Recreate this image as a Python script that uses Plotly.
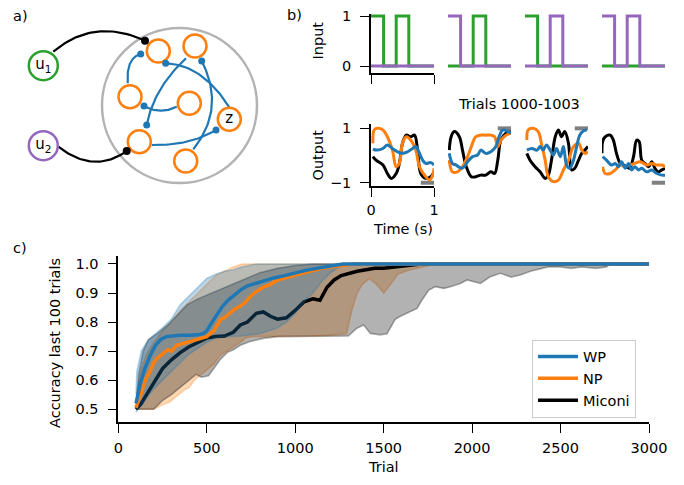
import numpy as np
import plotly.graph_objects as go

W, H = 684, 485
FONT = "DejaVu Sans"
FS = 14.5
BLUE, ORANGE, GREEN, PURPLE = "#1f77b4", "#ff7f0e", "#2ca02c", "#9467bd"

# ---------------- panel c data ----------------
wp_x = [100,110,125,150,180,210,240,270,300,350,400,450,480,500,530,560,590,620,650,690,730,780,830,880,940,1000,1060,1120,1180,1230,1270,3000]
wp_y = [0.52,0.55,0.59,0.64,0.685,0.72,0.74,0.75,0.752,0.755,0.755,0.756,0.76,0.77,0.80,0.83,0.855,0.875,0.89,0.91,0.925,0.935,0.945,0.952,0.96,0.97,0.978,0.985,0.992,0.997,1.0,1.0]
np_x = [100,115,140,160,180,200,220,250,280,300,330,360,390,420,450,480,500,520,540,560,580,600,630,660,690,720,750,780,820,860,900,950,1000,1050,1100,1150,1200,1260,1330,3000]
np_y = [0.505,0.53,0.57,0.61,0.63,0.66,0.675,0.69,0.705,0.70,0.72,0.725,0.73,0.735,0.74,0.745,0.75,0.76,0.77,0.79,0.81,0.815,0.83,0.845,0.855,0.87,0.89,0.905,0.92,0.93,0.945,0.955,0.962,0.97,0.978,0.985,0.99,0.995,1.0,1.0]
mi_x = [100,130,160,200,250,300,350,400,450,500,550,600,650,690,730,780,820,860,900,950,1000,1050,1100,1140,1180,1220,1260,1300,1350,1400,1450,1500,1560,1620,1710,3000]
mi_y = [0.50,0.52,0.55,0.59,0.64,0.67,0.695,0.715,0.73,0.745,0.75,0.752,0.765,0.79,0.80,0.83,0.835,0.82,0.81,0.815,0.84,0.87,0.88,0.875,0.92,0.945,0.96,0.968,0.975,0.98,0.985,0.985,0.99,0.995,1.0,1.0]

wp_lo_x = [100,120,150,200,250,300,350,400,450,500,550,600,700,800,900,950,1000,1050,1100,1150,1200,1250,1300,3000]
wp_lo_y = [0.49,0.51,0.53,0.57,0.60,0.63,0.66,0.69,0.71,0.73,0.745,0.75,0.752,0.76,0.78,0.80,0.83,0.87,0.90,0.94,0.97,0.99,1.0,1.0]
wp_hi_x = [100,105,130,160,200,250,300,350,400,450,500,550,600,650,700,780,3000]
wp_hi_y = [0.55,0.63,0.70,0.73,0.755,0.78,0.81,0.86,0.89,0.92,0.95,0.965,0.975,0.98,0.99,1.0,1.0]

np_lo_x = [100,200,250,290,330,370,400,430,460,500,540,575,610,650,690,720,760,1000,1100,1200,1290,1320,1350,1380,1420,1460,1500,1540,1580,1650,1720,1800,3000]
np_lo_y = [0.50,0.50,0.515,0.525,0.545,0.565,0.575,0.60,0.615,0.635,0.655,0.685,0.70,0.715,0.73,0.745,0.75,0.75,0.752,0.755,0.76,0.84,0.90,0.93,0.95,0.93,0.90,0.93,0.965,0.98,0.99,1.0,1.0]
np_hi_x = [100,110,130,160,200,250,300,350,400,450,500,550,600,650,700,3000]
np_hi_y = [0.52,0.58,0.64,0.69,0.73,0.77,0.80,0.84,0.87,0.90,0.93,0.96,0.975,0.99,1.0,1.0]

mi_lo_x = [100,200,250,300,350,400,440,470,510,540,575,615,650,690,745,820,900,1300,1349,1387,1425,1481,1519,1547,1566,1595,1632,1689,1717,1755,1793,1840,1878,1934,1972,2010,2047,2100,2160,2220,2273,2330,2390,2430,2500,2560,2620,2700,2760,2780,3000]
mi_lo_y = [0.50,0.50,0.53,0.55,0.575,0.60,0.62,0.61,0.615,0.64,0.67,0.695,0.705,0.72,0.733,0.744,0.75,0.752,0.779,0.79,0.761,0.756,0.76,0.79,0.81,0.82,0.83,0.847,0.876,0.91,0.922,0.916,0.922,0.933,0.945,0.939,0.933,0.955,0.968,0.955,0.962,0.975,0.985,0.99,0.99,0.985,0.99,0.985,0.99,1.0,1.0]
mi_hi_x = [100,115,140,170,220,280,330,390,450,520,580,650,720,800,900,1000,1100,3000]
mi_hi_y = [0.50,0.62,0.70,0.74,0.76,0.79,0.82,0.86,0.88,0.90,0.915,0.93,0.95,0.97,0.985,0.995,1.0,1.0]

# ---------------- panel b data ----------------
t_in = [0.0, 0.2, 0.4, 0.6, 1.0]
u1_trials = [[1, 0, 1, 0, 0], [0, 0, 1, 0, 0], [1, 0, 0, 0, 0], [0, 0, 0, 0, 0]]
u2_trials = [[0, 0, 0, 0, 0], [1, 0, 0, 0, 0], [0, 0, 1, 0, 0], [1, 0, 1, 0, 0]]
targets = [-1, 1, 1, -1]
target_t = [0.79, 1.0]

out_black_t = [
    [0.03,0.08,0.19,0.26,0.32,0.40,0.45,0.50,0.56,0.63,0.69,0.74,0.79,0.87,0.95,1.0],
    [0.02,0.05,0.10,0.18,0.23,0.29,0.37,0.44,0.52,0.60,0.68,0.74,0.79,0.84,0.92,1.0],
    [0.03,0.08,0.16,0.24,0.32,0.37,0.42,0.48,0.53,0.58,0.63,0.69,0.74,0.79,0.85,0.90,0.95,1.0],
    [0.0,0.01,0.05,0.13,0.18,0.23,0.29,0.34,0.39,0.44,0.50,0.55,0.59,0.63,0.68,0.74,0.79,0.84,0.89,0.95,1.0],
]
out_black_v = [
    [-0.04,-0.17,-0.35,-0.66,-0.84,-0.66,-0.29,0.45,0.75,0.69,0.75,0.2,-0.66,-0.84,-0.78,-0.6],
    [0.2,0.69,0.88,0.69,0.2,-0.41,-0.78,-0.78,-0.72,-0.72,-0.6,-0.66,-0.17,0.57,0.82,0.88],
    [0.08,-0.17,-0.41,-0.6,-0.84,-0.72,-0.17,0.69,0.94,0.69,0.88,0.45,-0.53,-0.47,-0.17,0.08,0.2,0.33],
    [0.08,0.51,0.69,0.75,0.57,0.08,-0.29,-0.35,-0.41,-0.47,-0.04,0.57,0.51,-0.17,-0.29,-0.41,-0.23,-0.47,-0.6,-0.53,-0.47],
]
out_orange_t = [
    [0.03,0.05,0.10,0.19,0.26,0.34,0.40,0.45,0.50,0.56,0.63,0.71,0.77,0.85,0.93,0.98,1.0],
    [0.02,0.07,0.15,0.23,0.31,0.37,0.44,0.52,0.60,0.68,0.74,0.79,0.84,0.92,1.0],
    [0.03,0.05,0.13,0.21,0.26,0.32,0.37,0.45,0.53,0.61,0.69,0.77,0.85,0.90,0.95,1.0],
    [0.01,0.05,0.13,0.21,0.29,0.37,0.44,0.52,0.60,0.66,0.71,0.79,0.87,0.95,1.0],
]
out_orange_v = [
    [0.45,0.94,1.0,0.94,0.69,0.2,-0.41,-0.29,0.45,0.69,0.57,0.2,-0.41,-0.72,-0.9,-0.72,-0.47],
    [-0.17,-0.6,-0.6,-0.41,-0.04,0.33,0.69,0.75,0.75,0.75,0.69,0.33,0.57,0.75,0.82],
    [0.57,0.94,1.0,0.88,0.45,-0.17,-0.78,-0.96,-0.9,-0.53,-0.17,0.33,0.45,0.2,0.08,0.14],
    [-0.41,-0.66,-0.66,-0.53,-0.35,-0.41,-0.35,-0.29,-0.23,-0.29,-0.35,-0.29,-0.35,-0.35,-0.41],
]
out_blue_t = [
    [0.03,0.10,0.19,0.26,0.34,0.42,0.50,0.58,0.66,0.71,0.77,0.82,0.87,0.95,1.0],
    [0.02,0.07,0.13,0.21,0.26,0.31,0.39,0.47,0.52,0.60,0.68,0.76,0.81,0.87,0.95,1.0],
    [0.03,0.11,0.19,0.24,0.29,0.34,0.40,0.45,0.50,0.56,0.61,0.66,0.71,0.77,0.82,0.87,0.93,0.98],
    [0.01,0.07,0.15,0.21,0.26,0.31,0.37,0.42,0.47,0.52,0.58,0.63,0.71,0.79,0.87,0.95,1.0],
]
out_blue_v = [
    [0.23,0.2,0.26,0.39,0.26,0.14,0.08,0.14,0.26,0.33,0.08,-0.17,-0.29,-0.26,-0.35],
    [0.08,-0.29,-0.35,-0.47,-0.41,-0.23,-0.04,0.02,0.2,0.08,0.14,0.33,0.69,0.94,0.88,0.82],
    [0.2,0.26,0.2,0.33,0.2,0.39,0.2,0.02,0.26,-0.04,0.33,-0.35,-0.47,-0.17,0.33,0.75,0.91,0.94],
    [-0.04,-0.17,-0.35,-0.29,-0.41,-0.23,-0.47,-0.29,-0.53,-0.41,-0.53,-0.47,-0.6,-0.53,-0.66,-0.72,-0.72],
]

# ---------------- panel a data (schematic, drawn in pixel-like units) ----------------
res_node_x = [158.3, 195.0, 130.0, 189.3, 229.3, 139.3, 185.7]
res_node_y = [51.0, 46.0, 96.7, 103.3, 119.3, 141.7, 161.0]
in_node_x = [43.3, 43.3]
in_node_y = [65.7, 145.7]
in_labels = ["u<sub>1</sub>", "u<sub>2</sub>"]
in_colors = [GREEN, PURPLE]
z_node = 4
reservoir_center = [179.5, 105.5]
# edges: start point, control point, end point (end gets a dot)
blue_edges = [
    [(127.7, 83.3), (126.0, 58.0), (140.7, 54.0)],
    [(176.7, 106.7), (160.0, 115.0), (144.0, 106.0)],
    [(186.0, 58.3), (153.7, 88.3), (146.7, 125.0)],
    [(229.3, 107.3), (202.5, 64.7), (165.7, 63.3)],
    [(193.3, 149.3), (225.9, 108.2), (201.7, 61.0)],
    [(151.7, 145.0), (189.5, 145.9), (216.0, 130.0)],
]
black_edges = [
    [(53.3, 51.7), (94.2, 17.2), (145.0, 40.7)],
    [(58.3, 146.7), (94.1, 174.5), (126.7, 151.0)],
]


def bez(e, n=40):
    t = np.linspace(0, 1, n)
    (x0, y0), (cx, cy), (x1, y1) = e
    x = (1 - t) ** 2 * x0 + 2 * (1 - t) * t * cx + t ** 2 * x1
    y = (1 - t) ** 2 * y0 + 2 * (1 - t) * t * cy + t ** 2 * y1
    return x, y


def dx(p):
    return p / W


def dy(p):
    return 1 - p / H


fig = go.Figure()

# ---------- panel c ----------
def band(lo_x, lo_y, hi_x, hi_y, rgb):
    return go.Scatter(
        x=list(lo_x) + list(hi_x)[::-1], y=list(lo_y) + list(hi_y)[::-1],
        fill="toself", fillcolor=f"rgba({rgb},0.3)", mode="lines",
        line=dict(color=f"rgba({rgb},0.3)", width=1.6),
        showlegend=False, hoverinfo="skip", xaxis="x", yaxis="y")

fig.add_trace(band(np_lo_x, np_lo_y, np_hi_x, np_hi_y, "255,127,14"))
fig.add_trace(band(mi_lo_x, mi_lo_y, mi_hi_x, mi_hi_y, "0,0,0"))
fig.add_trace(go.Scatter(x=mi_x, y=mi_y, mode="lines", name="Miconi",
                         line=dict(color="black", width=3.5), legendrank=3,
                         xaxis="x", yaxis="y"))
fig.add_trace(band(wp_lo_x, wp_lo_y, wp_hi_x, wp_hi_y, "31,119,180"))
fig.add_trace(go.Scatter(x=np_x, y=np_y, mode="lines", name="NP",
                         line=dict(color=ORANGE, width=3.5), legendrank=2,
                         xaxis="x", yaxis="y"))
fig.add_trace(go.Scatter(x=wp_x, y=wp_y, mode="lines", name="WP",
                         line=dict(color=BLUE, width=3.5), legendrank=1,
                         xaxis="x", yaxis="y"))

# ---------- panel b ----------
in_left = [371, 448, 525, 602]
in_w = 63
for k in range(4):
    ax = k + 2
    fig.add_trace(go.Scatter(x=t_in, y=u1_trials[k], mode="lines", line_shape="hv",
                             line=dict(color=GREEN, width=3), showlegend=False,
                             xaxis=f"x{ax}", yaxis=f"y{ax}"))
    fig.add_trace(go.Scatter(x=t_in, y=u2_trials[k], mode="lines", line_shape="hv",
                             line=dict(color=PURPLE, width=3), showlegend=False,
                             xaxis=f"x{ax}", yaxis=f"y{ax}"))
    ao = k + 6
    fig.add_trace(go.Scatter(x=target_t, y=[targets[k]] * 2, mode="lines",
                             line=dict(color="#808080", width=4), showlegend=False,
                             xaxis=f"x{ao}", yaxis=f"y{ao}"))
    fig.add_trace(go.Scatter(x=out_black_t[k], y=out_black_v[k], mode="lines",
                             line=dict(color="black", width=3), showlegend=False,
                             line_shape="spline", xaxis=f"x{ao}", yaxis=f"y{ao}"))
    fig.add_trace(go.Scatter(x=out_orange_t[k], y=out_orange_v[k], mode="lines",
                             line=dict(color=ORANGE, width=3), showlegend=False,
                             line_shape="spline", xaxis=f"x{ao}", yaxis=f"y{ao}"))
    fig.add_trace(go.Scatter(x=out_blue_t[k], y=out_blue_v[k], mode="lines",
                             line=dict(color=BLUE, width=3), showlegend=False,
                             line_shape="spline", xaxis=f"x{ao}", yaxis=f"y{ao}"))

# ---------- panel a ----------
fig.add_trace(go.Scatter(x=[reservoir_center[0]], y=[reservoir_center[1]], mode="markers",
                         marker=dict(size=155, color="rgba(0,0,0,0)",
                                     line=dict(color="#b3b3b3", width=2.5)),
                         showlegend=False, hoverinfo="skip", xaxis="x10", yaxis="y10"))
for e in blue_edges:
    ex, ey = bez(e)
    fig.add_trace(go.Scatter(x=ex, y=ey, mode="lines", line=dict(color=BLUE, width=2.2),
                             showlegend=False, hoverinfo="skip", xaxis="x10", yaxis="y10"))
for e in black_edges:
    ex, ey = bez(e)
    fig.add_trace(go.Scatter(x=ex, y=ey, mode="lines", line=dict(color="black", width=2.2),
                             showlegend=False, hoverinfo="skip", xaxis="x10", yaxis="y10"))
fig.add_trace(go.Scatter(x=res_node_x, y=res_node_y, mode="markers",
                         marker=dict(size=23, color="white", line=dict(color=ORANGE, width=2.5)),
                         showlegend=False, hoverinfo="skip", xaxis="x10", yaxis="y10"))
fig.add_trace(go.Scatter(x=[res_node_x[z_node]], y=[res_node_y[z_node]], mode="text", text=["z"],
                         textfont=dict(family=FONT, size=15, color="black"),
                         textposition="middle center",
                         showlegend=False, hoverinfo="skip", xaxis="x10", yaxis="y10"))
fig.add_trace(go.Scatter(x=in_node_x, y=in_node_y, mode="markers+text", text=in_labels,
                         textfont=dict(family=FONT, size=15, color="black"),
                         textposition="middle center",
                         marker=dict(size=29, color="white", line=dict(color=in_colors, width=2.5)),
                         showlegend=False, hoverinfo="skip", xaxis="x10", yaxis="y10"))
fig.add_trace(go.Scatter(x=[e[2][0] for e in blue_edges], y=[e[2][1] for e in blue_edges],
                         mode="markers", marker=dict(size=7, color=BLUE),
                         showlegend=False, hoverinfo="skip", xaxis="x10", yaxis="y10"))
fig.add_trace(go.Scatter(x=[e[2][0] for e in black_edges], y=[e[2][1] for e in black_edges],
                         mode="markers", marker=dict(size=8, color="black"),
                         showlegend=False, hoverinfo="skip", xaxis="x10", yaxis="y10"))

# ---------- layout ----------
axis_common = dict(showline=True, linecolor="black", linewidth=1.6, ticks="outside",
                   ticklen=9, tickwidth=1.4, tickcolor="black", showgrid=False,
                   zeroline=False, automargin=False,
                   tickfont=dict(family=FONT, size=FS, color="black"))
hidden = dict(visible=False, showgrid=False, zeroline=False, automargin=False)
layout = dict(
    template="none",
    width=W, height=H, autosize=False, margin=dict(l=0, r=0, t=0, b=0, pad=0),
    paper_bgcolor="white", plot_bgcolor="rgba(0,0,0,0)",
    font=dict(family=FONT, size=FS, color="black"),
    showlegend=True,
    legend=dict(x=dx(532), y=dy(339.5), xanchor="left", yanchor="top",
                bgcolor="rgba(255,255,255,0.8)", bordercolor="#cccccc", borderwidth=1,
                font=dict(family=FONT, size=FS), itemwidth=40, tracegroupgap=0),
    xaxis=dict(domain=[dx(118.3), dx(649)], range=[0, 3000], anchor="y",
               tickvals=[0, 500, 1000, 1500, 2000, 2500, 3000], ticklabelstandoff=2,
               **axis_common),
    yaxis=dict(domain=[dy(422.3), dy(256)], range=[0.455, 1.0275], anchor="x",
               tickvals=[0.5, 0.6, 0.7, 0.8, 0.9, 1.0], tickformat=".1f",
               ticklabelstandoff=6, **axis_common),
    xaxis10=dict(domain=[0, dx(280)], range=[0, 280], anchor="y10", **hidden),
    yaxis10=dict(domain=[dy(220), 1], range=[220, 0], anchor="x10", **hidden),
)
for k in range(4):
    ax, ao = k + 2, k + 6
    xd = [dx(in_left[k]), dx(in_left[k] + in_w)]
    if k == 0:
        layout[f"xaxis{ax}"] = dict(domain=xd, range=[0, 1], anchor=f"y{ax}",
                                    tickvals=[0, 1], showticklabels=False, **axis_common)
        layout[f"yaxis{ax}"] = dict(domain=[dy(73), dy(14)], range=[-0.14, 1.04],
                                    anchor=f"x{ax}", tickvals=[0, 1], ticktext=["0", "1"],
                                    ticklabelstandoff=6, **axis_common)
        layout[f"xaxis{ao}"] = dict(domain=xd, range=[0, 1], anchor=f"y{ao}",
                                    tickvals=[0, 1], ticktext=["0", "1"],
                                    ticklabelstandoff=1, **axis_common)
        layout[f"yaxis{ao}"] = dict(domain=[dy(186), dy(124)], range=[-1.12, 1.16],
                                    anchor=f"x{ao}", tickvals=[-1, 1], ticktext=["\u22121", "1"],
                                    ticklabelstandoff=6, **axis_common)
    else:
        layout[f"xaxis{ax}"] = dict(domain=xd, range=[0, 1], anchor=f"y{ax}", **hidden)
        layout[f"yaxis{ax}"] = dict(domain=[dy(73), dy(14)], range=[-0.14, 1.04],
                                    anchor=f"x{ax}", **hidden)
        layout[f"xaxis{ao}"] = dict(domain=xd, range=[0, 1], anchor=f"y{ao}", **hidden)
        layout[f"yaxis{ao}"] = dict(domain=[dy(186), dy(124)], range=[-1.12, 1.16],
                                    anchor=f"x{ao}", **hidden)

texts = [
    ("a)", 20, 16, 0), ("b)", 294, 15, 0), ("c)", 20, 248, 0),
    ("Input", 317.5, 41, -90), ("Output", 317.5, 155, -90),
    ("Trials 1000-1003", 519, 104, 0), ("Time (s)", 403, 229, 0),
    ("Trial", 383.5, 467, 0), ("Accuracy last 100 trials", 55, 343, -90),
]
layout["annotations"] = [
    dict(text=t, x=dx(x), y=dy(y), xref="paper", yref="paper", showarrow=False,
         xanchor="center", yanchor="middle", textangle=a,
         font=dict(family=FONT, size=FS, color="black"))
    for t, x, y, a in texts
]
fig.update_layout(**layout)
fig.write_html(
    "out.html",
    config={"responsive": False, "displayModeBar": False},
    post_script="document.body.style.margin='0';document.body.style.overflow='hidden';",
)
